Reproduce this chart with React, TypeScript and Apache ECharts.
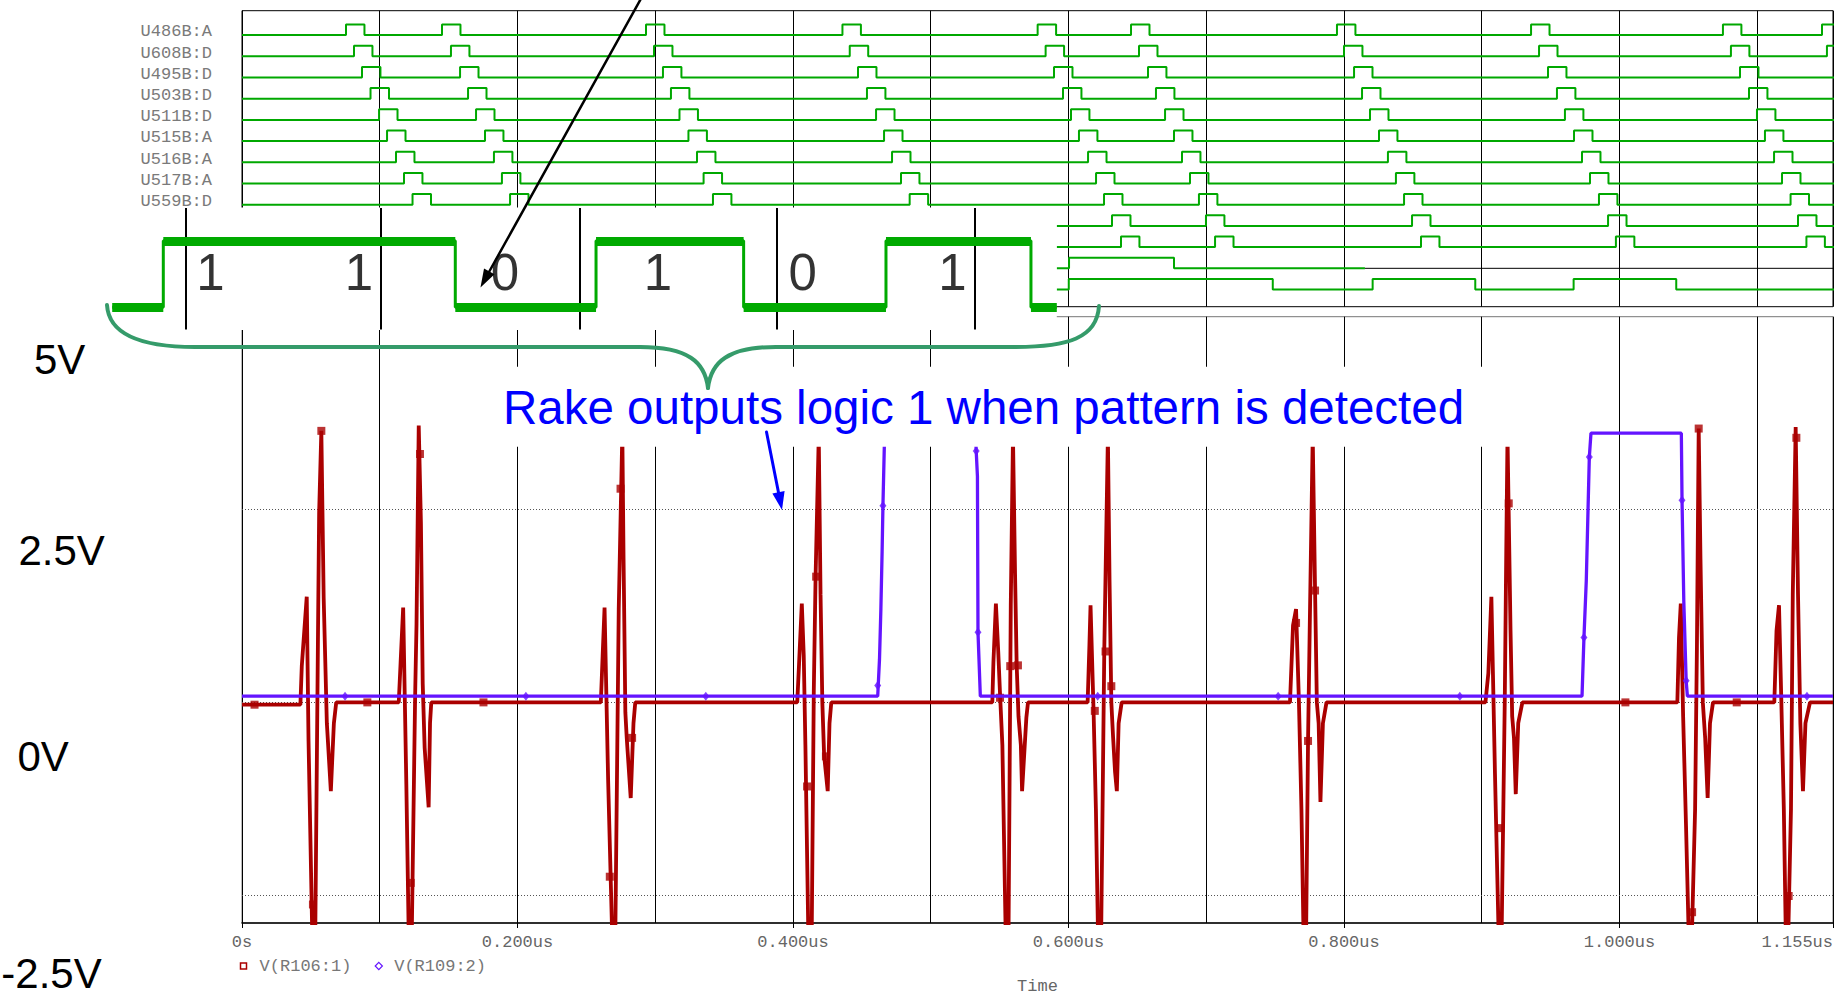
import React, { useEffect, useRef } from 'react';
import * as echarts from 'echarts';

// ---------- data ----------
const T_MAX = 1.155; // us
const SERIES_NAMES = ['V(R106:1)', 'V(R109:2)'];
const ROW_LABELS = ['U486B:A', 'U608B:D', 'U495B:D', 'U503B:D', 'U511B:D', 'U515B:A', 'U516B:A', 'U517B:A', 'U559B:D'];
const PULSE_WIDTH = 0.0134;
// pulse start times (us) of the digital rows 1..11
const ROW_PULSES: number[][] = [
  [0.0755, 0.1452, 0.2933, 0.4359, 0.5776, 0.6454, 0.7949, 0.9358, 1.0751, 1.147],
  [0.0813, 0.1517, 0.2991, 0.4412, 0.5834, 0.6512, 0.8, 0.9416, 1.0809, 1.1506],
  [0.0871, 0.1583, 0.3056, 0.4472, 0.5895, 0.6577, 0.8073, 0.9481, 1.0875],
  [0.0933, 0.1641, 0.3114, 0.4537, 0.596, 0.6635, 0.8131, 0.9546, 1.094],
  [0.0995, 0.1699, 0.3176, 0.4603, 0.6018, 0.6701, 0.8189, 0.9604, 1.0998],
  [0.1053, 0.1764, 0.3241, 0.4661, 0.6076, 0.6766, 0.8254, 0.967, 1.1056],
  [0.1118, 0.1829, 0.3303, 0.4719, 0.6142, 0.6824, 0.8319, 0.9728, 1.1122],
  [0.1176, 0.1887, 0.3351, 0.4784, 0.62, 0.6882, 0.8377, 0.9786, 1.118],
  [0.1238, 0.1946, 0.3419, 0.4847, 0.6258, 0.6947, 0.8436, 0.9851, 1.1242],
  [0.6316, 0.6998, 0.8494, 0.9917, 1.1296],
  [0.6381, 0.7064, 0.8559, 0.9974, 1.1357],
];
const ROW_START = [0, 0, 0, 0, 0, 0, 0, 0, 0, 0.5913, 0.5913, 0.5913, 0.5913];
// rows 12 and 13 given as [time, level] transitions
const ROW12_EDGES: [number, number][] = [[0.5913, 0], [0.6004, 1], [0.6766, 0]];
const ROW12_UNKNOWN_FROM = 0.8152;
const ROW13_EDGES: [number, number][] = [
  [0.5913, 0], [0.6002, 1], [0.7483, 0], [0.8208, 1], [0.8953, 0], [0.9667, 1], [1.0412, 0],
];

// analog traces [time us, volts]
const RED_START: [number, number][] = [[0, -0.03]];
const RED_BURSTS: [number, number][][] = [
  [[0.0424, -0.03], [0.0434, 0.47], [0.047, 1.37], [0.0483, -0.5], [0.0512, -3.2], [0.0531, -3.2], [0.0551, 0.75], [0.056, 2.46], [0.0576, 3.52], [0.0593, 1.35], [0.0616, -0.27], [0.0645, -1.15], [0.0667, -0.27], [0.0684, 0]],
  [[0.1138, 0], [0.1151, 0.5], [0.117, 1.23], [0.1193, -1.06], [0.1212, -3.2], [0.1231, -3.2], [0.1257, 0.1], [0.1267, 1.02], [0.1283, 3.59], [0.1299, 2.32], [0.1312, 0.24], [0.1326, -0.59], [0.1355, -1.36], [0.1365, -0.27], [0.1374, 0]],
  [[0.2605, 0], [0.2618, 0.6], [0.2632, 1.23], [0.2658, -1.01], [0.269, -3.2], [0.2709, -3.2], [0.2735, 1.21], [0.2761, 3.5], [0.277, 1.86], [0.2783, -0.13], [0.2793, -0.46], [0.2822, -1.24], [0.2842, -0.27], [0.2855, 0]],
  [[0.4031, 0], [0.4044, 0.5], [0.4064, 1.28], [0.4078, 0.61], [0.409, -0.55], [0.4113, -3.2], [0.4135, -3.2], [0.4151, 0.15], [0.4164, 1.63], [0.4187, 3.45], [0.42, 1.4], [0.4213, 0], [0.4226, -0.69], [0.4252, -1.15], [0.4265, -0.27], [0.4278, 0]],
  [[0.5447, 0], [0.5455, 0.52], [0.5473, 1.28], [0.549, 0.66], [0.5503, 0.11], [0.552, -0.55], [0.5546, -3.2], [0.5564, -3.2], [0.5581, 1.26], [0.5597, 3.45], [0.5612, 1.67], [0.5624, 0.47], [0.5637, -0.18], [0.5654, -0.55], [0.5663, -1.15], [0.5694, -0.2], [0.5706, 0]],
  [[0.6139, 0], [0.6152, 0.75], [0.616, 1.26], [0.6182, -0.11], [0.6199, -1.38], [0.6216, -3.2], [0.6236, -3.2], [0.626, 0.7], [0.6286, 3.45], [0.6298, 1.58], [0.6311, 0], [0.6324, -0.46], [0.6338, -0.9], [0.6351, -1.15], [0.6364, -0.27], [0.6386, 0]],
  [[0.7608, 0], [0.763, 1.0], [0.7652, 1.21], [0.7673, 0], [0.7691, -1.38], [0.7708, -3.2], [0.7724, -3.2], [0.7739, -0.5], [0.7751, 0.93], [0.7773, 3.45], [0.779, 1.45], [0.7803, 0], [0.7816, -0.27], [0.7829, -1.29], [0.7847, -0.27], [0.7873, 0]],
  [[0.9027, 0], [0.9048, 0.38], [0.907, 1.37], [0.9096, -0.92], [0.9125, -3.2], [0.9143, -3.2], [0.9167, 0], [0.9178, 1.96], [0.9187, 3.45], [0.9209, 0.93], [0.9221, -0.18], [0.9234, -0.46], [0.9247, -1.19], [0.9265, -0.27], [0.9295, 0]],
  [[1.042, 0], [1.0432, 0.84], [1.0445, 1.28], [1.0462, -0.18], [1.0483, -1.6], [1.0505, -3.2], [1.0523, -3.2], [1.0549, -1.38], [1.0562, 0.7], [1.0575, 3.55], [1.0588, 1.86], [1.0605, 0], [1.0622, -0.46], [1.064, -1.24], [1.0657, -0.27], [1.0679, 0]],
  [[1.1124, 0], [1.114, 0.93], [1.1158, 1.26], [1.1175, 0.01], [1.1193, -1.38], [1.1209, -3.2], [1.1223, -3.2], [1.1245, -1.38], [1.1258, 1.4], [1.1279, 3.57], [1.1296, 1.4], [1.1313, -0.27], [1.1332, -1.15], [1.135, -0.27], [1.1383, 0]],
];
const RED_END: [number, number][] = [[1.155, 0]];
const RED_MARKS: [number, number][] = [
  [0.0091, -0.03], [0.0515, -2.62], [0.0576, 3.52], [0.091, 0], [0.1225, -2.34], [0.1292, 3.22], [0.1753, 0],
  [0.267, -2.26], [0.2748, 2.77], [0.2832, -0.46], [0.4102, -1.09], [0.4168, 1.63], [0.4239, -0.7],
  [0.5503, 0.06], [0.5577, 0.47], [0.5633, 0.48], [0.6191, -0.11], [0.6269, 0.66], [0.6311, 0.21],
  [0.7652, 1.03], [0.7739, -0.5], [0.779, 1.45], [0.9135, -1.63], [0.9196, 2.58], [1.0043, 0],
  [1.0527, -2.72], [1.0575, 3.55], [1.0851, 0], [1.1228, -2.51], [1.1284, 3.43],
];
const BLUE_WAVE: [number, number][] = [
  [0, 0.08], [0.4615, 0.08], [0.4628, 0.56], [0.4638, 1.21], [0.4647, 1.96], [0.4653, 2.55], [0.4663, 3.32], [0.4671, 3.49],
  [0.5325, 3.49], [0.533, 3.26], [0.5339, 2.93], [0.5343, 0.91], [0.536, 0.08],
  [0.9728, 0.08], [0.9742, 0.84], [0.9759, 1.58], [0.9781, 3.18], [0.9793, 3.49],
  [1.0449, 3.49], [1.0454, 2.62], [1.0467, 1.3], [1.0484, 0.28], [1.0493, 0.08], [1.155, 0.08],
];
const BLUE_MARKS: [number, number][] = [
  [0.0748, 0.08], [0.2061, 0.08], [0.3367, 0.08], [0.4615, 0.22], [0.4653, 2.55], [0.533, 3.26], [0.5343, 0.91],
  [0.6212, 0.08], [0.7522, 0.08], [0.8841, 0.08], [0.9742, 0.84], [0.9781, 3.18], [1.0454, 2.62], [1.0484, 0.28], [1.1361, 0.08],
];
const GRID_LEVELS = [-2.5, 0, 2.5];

// bit pattern (units: bit periods from first rising edge)
const PATTERN_STEPS: [number, number][] = [[-0.35, 0], [0, 1], [2.0, 0], [2.964, 1], [3.975, 0], [4.95, 1], [5.943, 0], [6.12, 0]];
const BIT_LABELS = ['1', '1', '0', '1', '0', '1'];
const BIT_LABEL_POS = [0.323, 1.34, 2.34, 3.388, 4.38, 5.405];
const PATTERN_GRID = [0.153, 1.491, 2.851, 4.204, 5.56];

const VOLT_NOTES = ['5V', '2.5V', '0V', '-2.5V'];
const ANNOTATION = 'Rake outputs logic 1 when pattern is detected';

// ---------- styling ----------
const RED = '#aa0000';
const BLUE = '#6414ff';
const DIG_GREEN = '#00a800';
const MONO = '"Liberation Mono", "DejaVu Sans Mono", monospace';
const SANS = '"Liberation Sans", Arial, sans-serif';

function rowLevel(row: number, level: number) {
  // row is 1-based
  return level ? row - 0.35 : row + 0.15;
}

function stepPoints(edges: [number, number][], tEnd: number, row: number) {
  const pts: number[][] = [];
  edges.forEach(([t, l], i) => {
    if (i > 0) pts.push([t, rowLevel(row, edges[i - 1][1])]);
    pts.push([t, rowLevel(row, l)]);
  });
  pts.push([tEnd, rowLevel(row, edges[edges.length - 1][1])]);
  return pts;
}

function buildOption() {
  const series: any[] = [];

  // digital rows
  const digLine = (data: number[][], color = DIG_GREEN, width = 2) => ({
    type: 'line', xAxisIndex: 0, yAxisIndex: 0, data, showSymbol: false, silent: true,
    lineStyle: { color, width }, z: 3, clip: true,
  });
  ROW_PULSES.forEach((pulses, i) => {
    const edges: [number, number][] = [[ROW_START[i], 0]];
    pulses.forEach((p) => { edges.push([p, 1]); edges.push([p + PULSE_WIDTH, 0]); });
    series.push(digLine(stepPoints(edges, 1.2, i + 1)));
  });
  series.push(digLine(stepPoints(ROW12_EDGES, ROW12_UNKNOWN_FROM, 12)));
  series.push(digLine([[ROW12_UNKNOWN_FROM, rowLevel(12, 0)], [1.2, rowLevel(12, 0)]], '#000', 1));
  series.push(digLine(stepPoints(ROW13_EDGES, 1.2, 13)));

  // analog plot
  series.push({
    type: 'lines', coordinateSystem: 'cartesian2d', xAxisIndex: 1, yAxisIndex: 1, polyline: false, silent: true, z: 1,
    lineStyle: { color: '#555', width: 1, type: [1, 2], opacity: 1 },
    data: GRID_LEVELS.map((v) => ({ coords: [[0, v], [T_MAX, v]] })),
  });
  const redWave = [...RED_START, ...RED_BURSTS.flat(), ...RED_END];
  series.push({
    type: 'line', name: SERIES_NAMES[0], xAxisIndex: 1, yAxisIndex: 1, data: redWave, showSymbol: false,
    lineStyle: { color: RED, width: 3.8 }, z: 3, clip: true, silent: true,
  });
  series.push({
    type: 'scatter', name: SERIES_NAMES[0], xAxisIndex: 1, yAxisIndex: 1, data: RED_MARKS, symbol: 'rect',
    symbolSize: 8, itemStyle: { color: RED }, z: 4, silent: true,
  });
  series.push({
    type: 'line', name: SERIES_NAMES[1], xAxisIndex: 1, yAxisIndex: 1, data: BLUE_WAVE, showSymbol: false,
    lineStyle: { color: BLUE, width: 3.3 }, z: 5, clip: true, silent: true,
  });
  series.push({
    type: 'scatter', name: SERIES_NAMES[1], xAxisIndex: 1, yAxisIndex: 1, data: BLUE_MARKS, symbol: 'diamond',
    symbolSize: [7, 9], itemStyle: { color: BLUE }, z: 6, silent: true,
  });

  // bit pattern picture
  const patPts: number[][] = [];
  PATTERN_STEPS.forEach(([x, l], i) => {
    if (i > 0) patPts.push([x, PATTERN_STEPS[i - 1][1]]);
    patPts.push([x, l]);
  });
  series.push({
    type: 'lines', coordinateSystem: 'cartesian2d', xAxisIndex: 3, yAxisIndex: 2, polyline: false, silent: true, z: 60,
    lineStyle: { color: '#000', width: 2, opacity: 1 },
    data: PATTERN_GRID.map((x) => ({ coords: [[x, -0.336], [x, 1.494]] })),
  });
  series.push({
    type: 'line', xAxisIndex: 3, yAxisIndex: 2, data: patPts, showSymbol: false, silent: true,
    lineStyle: { color: '#00aa00', width: 3 }, z: 61,
  });
  series.push({
    type: 'lines', coordinateSystem: 'cartesian2d', xAxisIndex: 3, yAxisIndex: 2, polyline: false, silent: true, z: 62,
    lineStyle: { color: '#00aa00', width: 9, opacity: 1 },
    data: PATTERN_STEPS.slice(0, -1).map(([x, l], i) => ({ coords: [[x, l], [PATTERN_STEPS[i + 1][0], l]] })),
  });
  series.push({
    type: 'scatter', xAxisIndex: 3, yAxisIndex: 2, silent: true, z: 63, symbolSize: 1,
    itemStyle: { color: 'rgba(0,0,0,0)' },
    data: BIT_LABEL_POS.map((x, i) => ({ value: [x, 0.53], name: BIT_LABELS[i] })),
    label: {
      show: true, position: 'inside', formatter: (p: any) => p.name, color: '#000',
      fontSize: 51, fontFamily: SANS, align: 'center', verticalAlign: 'middle',
    },
  });

  const txt = (text: string, x: number, y: number, size: number, color: string, family: string, extra: any = {}) => ({
    type: 'text', x, y, z: 100, silent: true,
    style: {
      text, fill: color, fontSize: size, fontFamily: family,
      align: 'left', textAlign: 'left', verticalAlign: 'middle', textVerticalAlign: 'middle', ...extra,
    },
  });
  const BRACE = '#359b6a';
  const braceStyle = { stroke: BRACE, lineWidth: 4, fill: null, lineCap: 'round' };
  const curve = (x1: number, y1: number, cpx1: number, cpy1: number, cpx2: number, cpy2: number, x2: number, y2: number) => ({
    type: 'bezierCurve', z: 100, silent: true,
    shape: { x1, y1, cpx1, cpy1, cpx2, cpy2, x2, y2 }, style: braceStyle,
  });
  const seg = (x1: number, y1: number, x2: number, y2: number, stroke: string, lineWidth: number) => ({
    type: 'line', z: 100, silent: true, shape: { x1, y1, x2, y2 }, style: { stroke, lineWidth, lineCap: 'round' },
  });

  const graphic = [
    // pasted bit-pattern picture background
    { type: 'rect', z: 50, silent: true, shape: { x: 95, y: 207.5, width: 961.8, height: 122.5 }, style: { fill: '#fff' } },
    // annotation text box background
    { type: 'rect', z: 50, silent: true, shape: { x: 495, y: 366.7, width: 1050, height: 80 }, style: { fill: '#fff' } },
    txt(ANNOTATION, 503, 407.4, 47.5, '#0000ff', SANS),
    // brace
    curve(107, 305, 109, 338, 150, 347, 195, 347),
    seg(195, 347, 640, 347, BRACE, 4),
    curve(640, 347, 688, 347, 705, 362, 708, 388),
    curve(708, 388, 711, 362, 728, 347, 776, 347),
    seg(776, 347, 1015, 347, BRACE, 4),
    curve(1015, 347, 1068, 347, 1097, 338, 1099, 306),
    // black arrow
    seg(643, -5, 489, 272, '#000', 2.5),
    { type: 'polygon', z: 100, silent: true, shape: { points: [[480.5, 287.5], [494.5, 274.2], [484, 268.4]] }, style: { fill: '#000' } },
    // blue arrow
    seg(766.5, 432, 778.5, 492.5, '#0000ff', 3),
    { type: 'polygon', z: 100, silent: true, shape: { points: [[782, 510], [784.6, 491], [772.4, 493.6]] }, style: { fill: '#0000ff' } },
    // big voltage notes
    txt(VOLT_NOTES[0], 34, 359.8, 42, '#000', SANS),
    txt(VOLT_NOTES[1], 18.4, 550.5, 42, '#000', SANS),
    txt(VOLT_NOTES[2], 17.5, 756.5, 42, '#000', SANS),
    txt(VOLT_NOTES[3], 1.3, 973.5, 42, '#000', SANS, { lineHeight: 42 }),
    // legend
    { type: 'rect', z: 100, silent: true, shape: { x: 240.5, y: 963, width: 6, height: 6 }, style: { fill: 'none', stroke: RED, lineWidth: 1.5 } },
    txt(SERIES_NAMES[0], 259.6, 966, 17, '#777', MONO),
    { type: 'polygon', z: 100, silent: true, shape: { points: [[378.8, 962.3], [382.4, 966], [378.8, 969.7], [375.2, 966]] }, style: { fill: 'none', stroke: BLUE, lineWidth: 1.2 } },
    txt(SERIES_NAMES[1], 394.2, 966, 17, '#777', MONO),
  ];

  const hiddenAxis = { axisLine: { show: false }, axisTick: { show: false }, axisLabel: { show: false }, splitLine: { show: false } };

  return {
    animation: false,
    backgroundColor: '#fff',
    textStyle: { fontFamily: MONO },
    grid: [
      { left: 242, top: 10.7, width: 1591, height: 296, show: true, borderColor: '#000', borderWidth: 1, backgroundColor: 'transparent', containLabel: false, outerBoundsMode: 'none' },
      { left: 242, top: 316.7, width: 1591, height: 606.3, show: true, borderColor: '#777', borderWidth: 1, backgroundColor: 'transparent', containLabel: false, outerBoundsMode: 'none' },
      { left: 112.2, top: 208, width: 944.6, height: 121.5, show: false, containLabel: false, outerBoundsMode: 'none' },
    ],
    xAxis: [
      {
        gridIndex: 0, type: 'value', min: 0, max: T_MAX, interval: 0.1, position: 'bottom',
        axisLine: { show: false }, axisTick: { show: false }, axisLabel: { show: false },
        splitLine: { show: true, lineStyle: { color: '#000', width: 1 } },
      },
      {
        gridIndex: 1, type: 'value', min: 0, max: T_MAX, interval: 0.1, position: 'bottom',
        axisLine: { show: true, onZero: false, lineStyle: { color: '#000', width: 1.5 } }, axisTick: { show: false }, axisLabel: { show: false },
        splitLine: { show: true, lineStyle: { color: '#000', width: 1 } },
      },
      {
        gridIndex: 1, type: 'value', min: 0, max: T_MAX, interval: 0.2, position: 'bottom',
        axisLine: { show: false, onZero: false },
        axisTick: { show: true, length: 5, lineStyle: { color: '#000', width: 1 } },
        axisLabel: {
          show: true, margin: 11, fontFamily: MONO, fontSize: 17, color: '#666', alignMaxLabel: 'right',
          showMinLabel: true, showMaxLabel: true,
          formatter: (v: number) => (v === 0 ? '0s' : `${v.toFixed(3)}us`),
        },
        splitLine: { show: false },
        name: 'Time', nameLocation: 'middle', nameGap: 55,
        nameTextStyle: { fontFamily: MONO, fontSize: 17, color: '#666' },
      },
      { gridIndex: 2, type: 'value', min: -0.35, max: 6.12, ...hiddenAxis },
    ],
    yAxis: [
      {
        gridIndex: 0, type: 'value', inverse: true, min: 0, max: 13.96, interval: 1,
        axisLine: { show: false }, axisTick: { show: false }, splitLine: { show: false },
        axisLabel: {
          show: true, margin: 30, fontFamily: MONO, fontSize: 17, color: '#7a7a7a',
          formatter: (v: number) => ROW_LABELS[v - 1] ?? '',
        },
      },
      {
        gridIndex: 1, type: 'value', min: -2.86, max: 5,
        axisLine: { show: true, onZero: false, lineStyle: { color: '#000', width: 1 } },
        axisTick: { show: false }, axisLabel: { show: false }, splitLine: { show: false },
      },
      { gridIndex: 2, type: 'value', min: -0.336, max: 1.494, ...hiddenAxis },
    ],
    series,
    graphic: { elements: graphic },
  };
}

export default function App() {
  const ref = useRef<HTMLDivElement>(null);
  useEffect(() => {
    if (!ref.current) return;
    const chart = echarts.init(ref.current, null, { renderer: 'svg' });
    chart.setOption(buildOption() as any);
    return () => chart.dispose();
  }, []);
  return (
    <div
      ref={ref}
      style={{ position: 'fixed', left: 0, top: 0, width: 1834, height: 997, background: '#fff' }}
    />
  );
}
